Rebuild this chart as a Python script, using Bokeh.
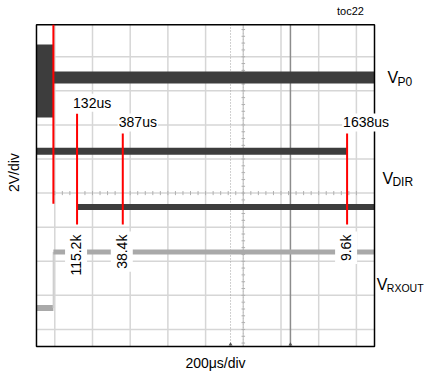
import numpy as np
from bokeh.plotting import figure
from bokeh.models import Range1d, Label
from bokeh.embed import file_html
from bokeh.resources import INLINE

# --- data -----------------------------------------------------------------
# time markers (us after trigger) and the UART baud rate switched in at each
marker_times_us = [0, 132, 387, 1638]
marker_texts = ["", "132us", "387us", "1638us"]
baud_times_us = [132, 387, 1638]
baud_texts = ["115.2k", "38.4k", "9.6k"]

# trace levels, in screen divisions (2V/div) from the bottom graticule line
vp0_burst = (6.22, 8.36)      # switching envelope before the trigger
vp0_level = 7.39              # V_P0 after the trigger
vdir_high = 5.23              # V_DIR, until 1638us
vdir_low = 3.59               # V_DIR, from 132us
rx_low = 0.63                 # V_RXOUT before the trigger
rx_high = 2.27                # V_RXOUT after the trigger

# visible screen window (time in us, vertical in divisions)
T0, T1 = -94.3, 1790.9
Y0, Y1 = -0.5, 8.94

vdir_high_span = (T0, 1638)
vdir_low_span = (132, T1)
vp0_burst_span = (T0, 0)
vp0_span = (0, T1)
rx_low_span = (T0, 0)
rx_high_span = (0, T1)

# graticule
div_us = 210.26
grid_x = [7.8 + div_us * i for i in range(9)]
grid_y = list(range(9))

FONT = "Liberation Sans, Arial"
DARK = "#3d3d3d"
GREY = "#a9a9a9"
RED = "#ff0000"
GRID = "#d6d6d6"

# the plot frame spans the whole canvas so captions outside the screen are not clipped
p = figure(width=425, height=377, x_range=Range1d(-295.0, 2075.3), y_range=Range1d(-1.41, 9.65),
           min_border=0, toolbar_location=None, output_backend="svg",
           x_axis_location=None, y_axis_location=None)
p.background_fill_color = "white"
p.border_fill_color = "white"
p.outline_line_color = None
p.xgrid.visible = False
p.ygrid.visible = False

# graticule lines
p.segment(x0=grid_x, x1=grid_x, y0=Y0, y1=Y1, line_color=GRID, line_width=1.5)
p.segment(x0=T0, x1=T1, y0=grid_y, y1=grid_y, line_color=GRID, line_width=1.5)

# centre axes with minor ticks
cx = grid_x[5]
p.segment(x0=[cx], x1=[cx], y0=Y0, y1=Y1, line_color="#bdbdbd", line_width=1, line_dash="2 1")
mx = grid_x[0] + div_us / 5 * np.arange(0, 41)
p.segment(x0=mx, x1=mx, y0=3.94, y1=4.06, line_color="#b0b0b0", line_width=1)
my = np.arange(-2, 45) / 5
p.segment(x0=cx - 10, x1=cx + 10, y0=my, y1=my, line_color="#b0b0b0", line_width=1)

# cursors
p.segment(x0=[988], x1=[988], y0=Y0, y1=Y1, line_color="#a0a0a0", line_width=1, line_dash="1 2")
p.segment(x0=[1322], x1=[1322], y0=Y0, y1=Y1, line_color="#8c8c8c", line_width=1.5)
p.scatter(x=[988, 1322], y=[Y0 + 0.06, Y0 + 0.06], marker="triangle", size=4,
          fill_color="#555555", line_color=None)

# V_P0
p.quad(left=vp0_burst_span[0], right=vp0_burst_span[1], bottom=vp0_burst[0], top=vp0_burst[1],
       fill_color=DARK, line_color=None)
p.segment(x0=vp0_span[0], x1=vp0_span[1], y0=vp0_level, y1=vp0_level,
          line_color=DARK, line_width=12, line_cap="butt")

# V_DIR
p.segment(x0=vdir_high_span[0], x1=vdir_high_span[1], y0=vdir_high, y1=vdir_high,
          line_color=DARK, line_width=7, line_cap="butt")
p.segment(x0=vdir_low_span[0], x1=vdir_low_span[1], y0=vdir_low, y1=vdir_low,
          line_color=DARK, line_width=6, line_cap="butt")

# V_RXOUT
p.segment(x0=rx_low_span[0], x1=rx_low_span[1], y0=rx_low, y1=rx_low,
          line_color=GREY, line_width=6, line_cap="butt")
p.segment(x0=0, x1=0, y0=rx_low, y1=rx_high, line_color="#cfcfcf", line_width=1.5)
p.segment(x0=rx_high_span[0], x1=rx_high_span[1], y0=rx_high, y1=rx_high,
          line_color=GREY, line_width=5, line_cap="butt")

# screen border
p.quad(left=T0, right=T1, bottom=Y0, top=Y1, fill_color=None, line_color="black", line_width=1.5)

# red marker lines
line_top = [Y1, 6.33, 5.75, 5.75]
line_bot = [3.69, 3.08, 3.08, 3.08]
p.segment(x0=marker_times_us, x1=marker_times_us, y0=line_bot, y1=line_top,
          line_color=RED, line_width=2)

for t, txt, top in zip(marker_times_us, marker_texts, line_top):
    if not txt:
        continue
    p.add_layout(Label(x=t, y=top, text=txt, x_offset=-5, y_offset=2,
                       text_align="left", text_baseline="bottom",
                       text_font=FONT, text_font_size="14px", text_color="black",
                       background_fill_color="white", padding=1))

for t, txt in zip(baud_times_us, baud_texts):
    p.add_layout(Label(x=t, y=2.87, text=txt, angle=np.pi / 2, x_offset=-1,
                       text_align="right", text_baseline="middle",
                       text_font=FONT, text_font_size="14px", text_color="black",
                       background_fill_color="white", padding=3))

# channel names with subscripts
channels = [("P0", 7.39, 1863, "12px"), ("DIR", 4.43, 1835, "12px"), ("RXOUT", 1.32, 1804, "10.5px")]
for sub, y, x, sub_size in channels:
    p.add_layout(Label(x=x, y=y, text="V", text_align="left", text_baseline="middle",
                       text_font=FONT, text_font_size="16px", text_color="black"))
    p.add_layout(Label(x=x, y=y, text=sub, x_offset=10, y_offset=-4,
                       text_align="left", text_baseline="middle",
                       text_font=FONT, text_font_size=sub_size, text_color="black"))

# scale captions
p.add_layout(Label(x=904, y=-0.97, text="200\u03bcs/div", text_align="center", text_baseline="middle",
                   text_font=FONT, text_font_size="14px", text_color="black"))
p.add_layout(Label(x=-222, y=4.6, text="2V/div", angle=np.pi / 2, text_align="center",
                   text_baseline="middle", text_font=FONT, text_font_size="14px", text_color="black"))
p.add_layout(Label(x=1657, y=9.33, text="toc22", text_align="center", text_baseline="middle",
                   text_font=FONT, text_font_size="11px", text_color="black"))

open("out.html", "w").write(file_html(p, INLINE))
